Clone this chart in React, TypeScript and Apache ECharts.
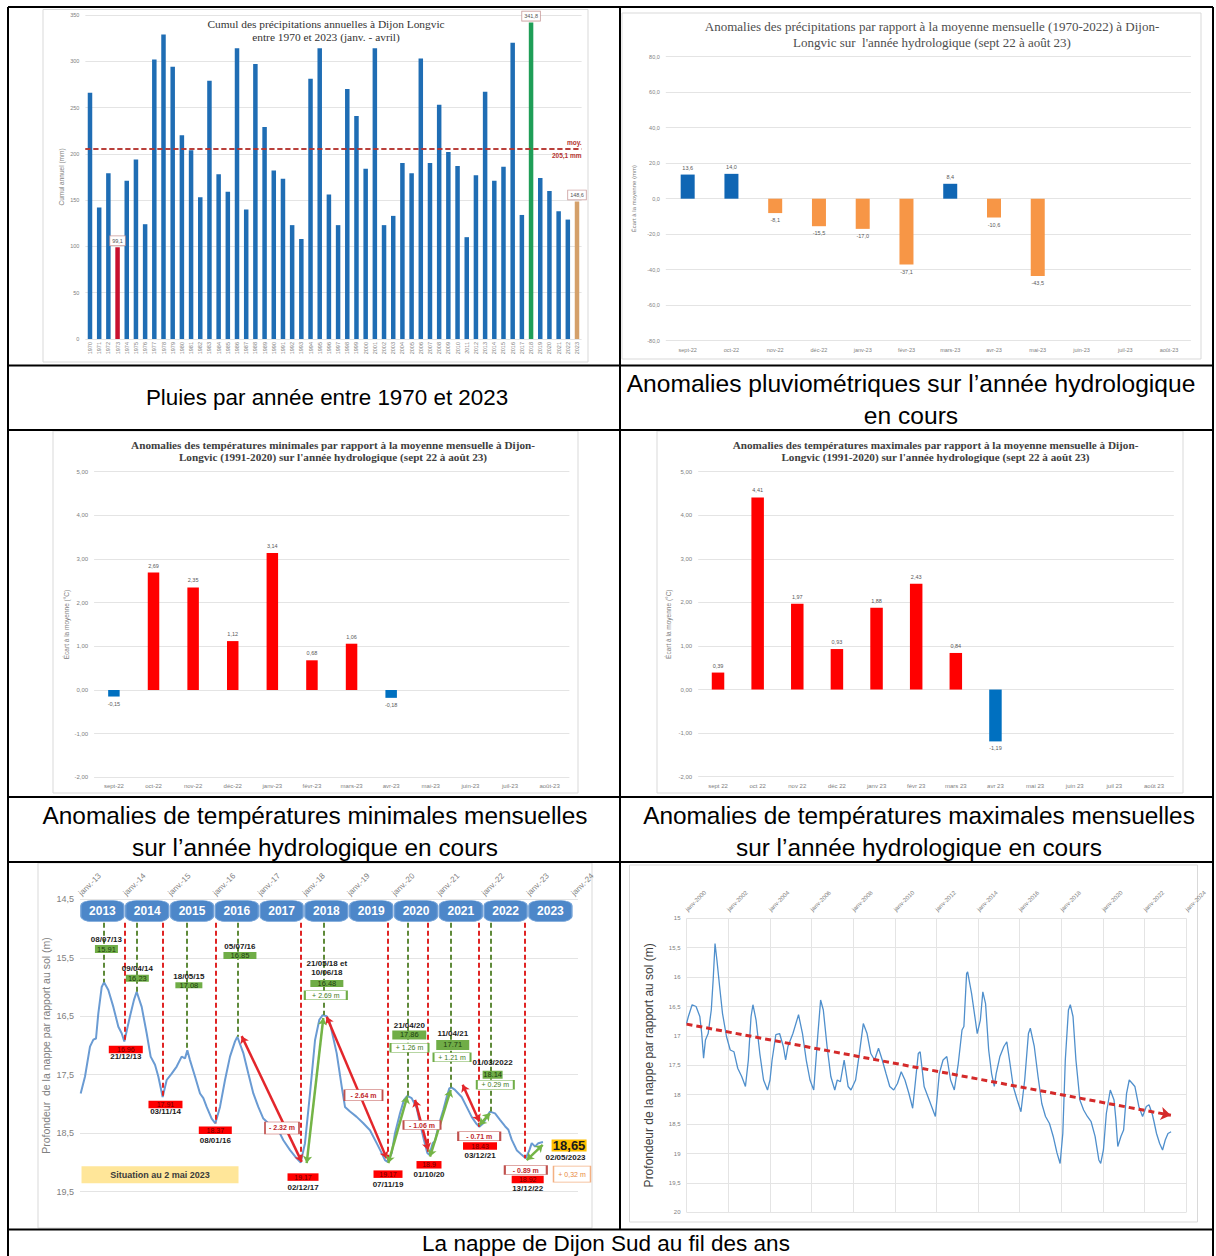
import React, { useEffect, useRef } from "react";
import * as echarts from "echarts";

const SANS = '"Liberation Sans", Arial, sans-serif';
const SERIF = '"Liberation Serif", "Times New Roman", serif';
const GREY = "#808080";
const GRID_GREY = "#e4e4e4";

// ---------- 1. Cumul des précipitations (janv. - avril), 1970-2023 ----------
const rainYears = [
  "1970", "1971", "1972", "1973", "1974", "1975", "1976", "1977", "1978", "1979",
  "1980", "1981", "1982", "1983", "1984", "1985", "1986", "1987", "1988", "1989",
  "1990", "1991", "1992", "1993", "1994", "1995", "1996", "1997", "1998", "1999",
  "2000", "2001", "2002", "2003", "2004", "2005", "2006", "2007", "2008", "2009",
  "2010", "2011", "2012", "2013", "2014", "2015", "2016", "2017", "2018", "2019",
  "2020", "2021", "2022", "2023",
];
const rainTotals = [
  266, 142, 179, 99.1, 171, 194, 124, 302, 329, 294,
  220, 204, 153, 279, 178, 159, 314, 140, 297, 229,
  182, 173, 123, 108, 281, 314, 156, 123, 270, 241,
  184, 314, 123, 133, 190, 179, 303, 190, 253, 202,
  187, 110, 177, 267, 171, 186, 320, 134, 341.8, 174,
  160, 138, 129, 148.6,
];
const rainMean = 205.1;
const rainHighlightYears = ["1973", "2018", "2023"];
const rainHighlightLabels = ["99,1", "341,8", "148,6"];
const rainHighlightColors = ["#c8102e", "#1f9e57", "#d4a06a"];

// ---------- 2. Anomalies des précipitations (sept 22 - août 23) ----------
const monthsHyphen = ["sept-22", "oct-22", "nov-22", "déc-22", "janv-23", "févr-23", "mars-23", "avr-23", "mai-23", "juin-23", "juil-23", "août-23"];
const rainAnomalies = [13.6, 14.0, -8.1, -15.5, -17.0, -37.1, 8.4, -10.6, -43.5, null, null, null];

// ---------- 3. Anomalies Tmin ----------
const tminAnomalies = [-0.15, 2.69, 2.35, 1.12, 3.14, 0.68, 1.06, -0.18, null, null, null, null];

// ---------- 4. Anomalies Tmax ----------
const monthsSpace = ["sept 22", "oct 22", "nov 22", "déc 22", "janv 23", "févr 23", "mars 23", "avr 23", "mai 23", "juin 23", "juil 23", "août 23"];
const tmaxAnomalies = [0.39, 4.41, 1.97, 0.93, 1.88, 2.43, 0.84, -1.19, null, null, null, null];

// ---------- 5. Nappe de Dijon Sud 2013-2023 (decimal years, depth m) ----------
const recentYears = [
  2013.015, 2013.112, 2013.223, 2013.298, 2013.357, 2013.409, 2013.484, 2013.536, 2013.632, 2013.744,
  2013.856, 2013.93, 2013.989, 2014.116, 2014.205, 2014.265, 2014.377, 2014.488, 2014.577, 2014.674,
  2014.748, 2014.845, 2014.935, 2015.046, 2015.158, 2015.269, 2015.344, 2015.396, 2015.455, 2015.567,
  2015.679, 2015.753, 2015.827, 2015.939, 2016.021, 2016.125, 2016.237, 2016.348, 2016.46, 2016.512,
  2016.646, 2016.757, 2016.869, 2016.98, 2017.092, 2017.204, 2017.315, 2017.427, 2017.539, 2017.688,
  2017.836, 2017.926, 2018.022, 2018.134, 2018.246, 2018.342, 2018.417, 2018.506, 2018.58, 2018.729,
  2018.841, 2018.915, 2019.027, 2019.176, 2019.324, 2019.473, 2019.622, 2019.734, 2019.808, 2019.868,
  2019.957, 2020.031, 2020.143, 2020.232, 2020.306, 2020.403, 2020.515, 2020.589, 2020.679, 2020.753,
  2020.798, 2020.872, 2020.924, 2020.999, 2021.11, 2021.185, 2021.244, 2021.296, 2021.371, 2021.445,
  2021.519, 2021.631, 2021.743, 2021.839, 2021.914, 2022.003, 2022.078, 2022.152, 2022.264, 2022.375,
  2022.487, 2022.562, 2022.636, 2022.748, 2022.86, 2022.949, 2023.031, 2023.083, 2023.158, 2023.23,
  2023.334,
];
const recentDepths = [
  17.82, 17.53, 17.02, 16.9, 16.88, 16.45, 16.0, 15.92, 16.05, 16.34,
  16.68, 16.79, 16.93, 16.5, 16.22, 16.08, 16.34, 16.79, 17.19, 17.33,
  17.53, 17.88, 17.59, 17.48, 17.36, 17.19, 17.22, 17.08, 17.25, 17.53,
  17.82, 17.9, 18.05, 18.25, 18.33, 18.05, 17.59, 17.19, 16.93, 16.85,
  17.13, 17.48, 17.82, 18.05, 18.25, 18.33, 18.39, 18.45, 18.62, 18.79,
  18.93, 19.0, 18.67, 17.82, 16.91, 16.56, 16.48, 16.5, 16.62, 17.13,
  17.7, 18.05, 18.13, 18.22, 18.33, 18.45, 18.67, 18.84, 18.96, 18.99,
  18.84, 18.5, 18.16, 17.93, 17.86, 17.9, 18.07, 18.33, 18.62, 18.84,
  18.87, 18.67, 18.64, 18.38, 18.1, 17.88, 17.73, 17.72, 17.76, 17.82,
  17.88, 18.05, 18.22, 18.33, 18.39, 18.33, 18.22, 18.13, 18.16, 18.27,
  18.38, 18.44, 18.61, 18.79, 18.87, 18.93, 18.79, 18.67, 18.73, 18.67,
  18.65,
];
const yearBoxLabels = ["2013", "2014", "2015", "2016", "2017", "2018", "2019", "2020", "2021", "2022", "2023"];
const yearBoxStarts = [2013, 2014, 2015, 2016, 2017, 2018, 2019, 2020, 2021, 2022, 2023];
const guideTopDepth = 14.9;
// hautes eaux
const highLineX = [2013.536, 2014.266, 2015.382, 2016.511, 2018.431, 2020.306, 2021.275, 2022.167];
const highLineDepth = [15.92, 16.08, 17.08, 16.85, 16.48, 17.86, 17.72, 18.13];
const highLabelX = [2013.59, 2014.28, 2015.43, 2016.57, 2018.51, 2020.35, 2021.32, 2022.21];
const highDates = ["08/07/13", "09/04/14", "18/05/15", "05/07/16", "21/05/18 et\n10/06/18", "21/04/20", "11/04/21", "01/03/2022"];
const highDateDepth = [15.19, 15.68, 15.82, 15.31, 15.67, 16.65, 16.79, 17.29];
const highValues = ["15.91", "16.23", "17.08", "16.85", "16.48", "17.86", "17.71", "18.14"];
const highValueDepth = [15.35, 15.85, 15.97, 15.46, 15.94, 16.82, 16.99, 17.5];
const highBoxW = [23, 23, 27, 33, 33, 34, 33, 20];
const highBoxH = [8, 7, 6, 7, 7, 9, 10, 8];
const riseTexts = ["+ 2.69 m", "+ 1.26 m", "+ 1.21 m", "+ 0.29 m"];
const riseX = [2018.487, 2020.355, 2021.304, 2022.27];
const riseDepth = [16.14, 17.04, 17.2, 17.67];
const riseBoxW = [42, 38, 37, 37];
// basses eaux
const lowLineX = [2013.989, 2014.846, 2016.02, 2017.926, 2019.868, 2020.752, 2021.9, 2022.933];
const lowLineDepth = [16.93, 17.88, 18.33, 19.0, 18.99, 18.84, 18.39, 18.93];
const lowLabelX = [2014.022, 2014.908, 2016.02, 2017.978, 2019.875, 2020.79, 2021.929, 2022.993];
const lowDates = ["21/12/13", "03/11/14", "08/01/16", "02/12/17", "07/11/19", "01/10/20", "03/12/21", "13/12/22"];
const lowDateDepth = [17.19, 18.13, 18.63, 19.42, 19.37, 19.21, 18.88, 19.44];
const lowValues = ["16.96", "17.91", "18.37", "19.17", "19.17", "18.9", "18.43", "18.92"];
const lowValueDepth = [17.07, 18.01, 18.45, 19.25, 19.2, 19.04, 18.72, 19.29];
const lowBoxW = [34, 34, 33, 31, 29, 25, 34, 32];
const fallTexts = ["- 2.32 m", "- 2.64 m", "- 1.06 m", "- 0.71 m", "- 0.89 m"];
const fallX = [2017.509, 2019.328, 2020.634, 2021.911, 2022.951];
const fallDepth = [18.41, 17.85, 18.36, 18.55, 19.13];
const fallBoxW = [34, 38, 37, 42, 42];
const fallBoxH = [12, 11, 9, 9, 9];
const fallArrows = [
  [2016.609, 16.84, 2017.949, 18.99],
  [2018.507, 16.51, 2019.846, 18.93],
  [2020.478, 17.93, 2020.775, 18.79],
  [2021.542, 17.67, 2021.913, 18.3],
];
const riseArrows = [
  [2018.06, 19.01, 2018.431, 16.53],
  [2019.882, 19.01, 2020.306, 17.87],
  [2020.813, 18.9, 2021.275, 17.76],
  [2021.913, 18.36, 2022.152, 18.16],
  [2022.971, 18.96, 2023.328, 18.7],
];
const currentValue = "18,65";
const currentValuePos = [2023.917, 18.71];
const currentDate = "02/05/2023";
const currentDatePos = [2023.837, 18.92];
const currentRise = "+ 0,32 m";
const currentRisePos = [2023.982, 19.2];
const situationText = "Situation au 2 mai 2023";
const situationPos = [2014.786, 19.21];

// ---------- 6. Nappe 2000-2023 ----------
const longYears = [
  2000.0, 2000.09, 2000.27, 2000.46, 2000.64, 2000.73, 2000.82, 2000.91, 2001.04, 2001.19,
  2001.28, 2001.37, 2001.46, 2001.59, 2001.73, 2001.92, 2002.1, 2002.28, 2002.46, 2002.65,
  2002.83, 2002.97, 2003.1, 2003.19, 2003.34, 2003.52, 2003.7, 2003.89, 2004.01, 2004.11,
  2004.29, 2004.47, 2004.65, 2004.76, 2004.87, 2005.11, 2005.38, 2005.57, 2005.75, 2005.93,
  2006.11, 2006.3, 2006.44, 2006.57, 2006.75, 2006.93, 2007.12, 2007.24, 2007.39, 2007.57,
  2007.76, 2007.9, 2008.12, 2008.3, 2008.49, 2008.67, 2008.85, 2009.03, 2009.22, 2009.4,
  2009.58, 2009.76, 2009.95, 2010.13, 2010.31, 2010.49, 2010.68, 2010.86, 2011.0, 2011.13,
  2011.22, 2011.41, 2011.59, 2011.77, 2011.95, 2012.14, 2012.32, 2012.5, 2012.68, 2012.86,
  2013.05, 2013.23, 2013.32, 2013.45, 2013.5, 2013.69, 2013.87, 2013.96, 2014.11, 2014.23,
  2014.36, 2014.51, 2014.65, 2014.78, 2014.87, 2015.05, 2015.24, 2015.38, 2015.51, 2015.69,
  2015.88, 2016.06, 2016.24, 2016.42, 2016.51, 2016.7, 2016.88, 2017.06, 2017.24, 2017.43,
  2017.61, 2017.79, 2017.94, 2018.07, 2018.19, 2018.34, 2018.43, 2018.56, 2018.7, 2018.89,
  2019.07, 2019.25, 2019.43, 2019.62, 2019.8, 2019.89, 2020.02, 2020.16, 2020.35, 2020.53,
  2020.62, 2020.71, 2020.86, 2020.99, 2021.13, 2021.26, 2021.41, 2021.53, 2021.72, 2021.9,
  2022.08, 2022.21, 2022.36, 2022.45, 2022.57, 2022.72, 2022.86, 2022.99, 2023.12, 2023.27,
];
const longDepths = [
  16.79, 16.67, 16.47, 16.5, 16.67, 16.96, 17.38, 17.07, 16.96, 16.56,
  16.05, 15.43, 15.71, 16.16, 16.62, 17.01, 17.24, 17.27, 17.55, 17.69,
  17.86, 17.41, 16.67, 16.47, 16.73, 17.3, 17.75, 17.92, 17.75, 17.41,
  16.98, 16.96, 17.18, 17.41, 17.18, 16.96, 16.64, 16.96, 17.41, 17.75,
  17.92, 17.01, 16.39, 16.56, 17.18, 17.69, 17.92, 17.75, 17.78, 17.41,
  17.86, 17.92, 17.75, 17.3, 16.79, 16.96, 17.3, 17.41, 17.21, 17.41,
  17.64, 17.86, 17.92, 17.81, 17.61, 17.75, 17.98, 18.23, 17.75, 17.3,
  17.27, 17.86, 18.03, 18.2, 18.37, 17.64, 17.41, 17.35, 17.75, 17.92,
  17.47, 16.9, 16.84, 15.94, 15.91, 16.28, 16.73, 16.96, 16.73, 16.25,
  16.45, 17.24, 17.64, 17.86, 17.64, 17.35, 17.18, 17.1, 17.41, 17.86,
  18.09, 18.29, 17.75, 16.96, 16.87, 17.18, 17.69, 18.15, 18.37, 18.49,
  18.71, 18.99, 19.17, 18.66, 17.41, 16.56, 16.47, 16.67, 17.41, 18.09,
  18.26, 18.37, 18.46, 18.71, 19.11, 19.17, 18.94, 18.32, 17.92, 18.09,
  18.43, 18.88, 18.71, 18.6, 17.98, 17.75, 17.81, 17.86, 18.2, 18.37,
  18.2, 18.17, 18.32, 18.46, 18.66, 18.83, 18.94, 18.77, 18.66, 18.63,
];
const trendStart = [2000.0, 16.8];
const trendEnd = [2023.26, 18.35];

// ---------- helpers ----------
const comma = (v: number, d: number) => v.toFixed(d).replace(".", ",");
const TRANSPARENT = "rgba(0,0,0,0)";

function mpBox(x: number, y: number, text: string, w: number, h: number, fill: string, stroke: string | null, color: string, fontSize: number, bold = true, symbol = "rect") {
  return {
    coord: [x, y],
    symbol,
    symbolSize: [w, h],
    itemStyle: { color: fill, borderColor: stroke || TRANSPARENT, borderWidth: stroke ? 1 : 0 },
    label: {
      show: true, position: "inside", formatter: text, color, fontSize,
      fontWeight: bold ? "bold" : "normal", fontFamily: SANS, lineHeight: fontSize + 1,
    },
  };
}
const mpText = (x: number, y: number, text: string, color: string, fontSize: number) =>
  mpBox(x, y, text, 1, 1, TRANSPARENT, null, color, fontSize, true);

function vLine(x: number, y1: number, y2: number, color: string) {
  return [
    { coord: [x, y1], symbol: "none", lineStyle: { color, type: [5, 3], width: 2 } },
    { coord: [x, y2], symbol: "none" },
  ];
}
function arrowLine(a: number[], color: string) {
  return [
    { coord: [a[0], a[1]], symbol: "arrow", symbolSize: 7, lineStyle: { color, type: "solid", width: 2.5 } },
    { coord: [a[2], a[3]], symbol: "arrow", symbolSize: 7 },
  ];
}

function catAxis(gridIndex: number, data: string[], fontSize: number, extra: any = {}) {
  return {
    type: "category", gridIndex, data,
    axisLine: { show: false, onZero: false }, axisTick: { show: false },
    axisLabel: { color: GREY, fontSize, fontFamily: SANS, interval: 0, margin: 6, ...extra },
  };
}
function valAxis(gridIndex: number, min: number, max: number, interval: number, fmt: (v: number) => string, fontSize: number, name: string, nameGap: number, nameSize: number, nameColor: string, extra: any = {}) {
  return {
    type: "value", gridIndex, min, max, interval,
    axisLine: { show: false }, axisTick: { show: false },
    splitLine: { show: true, lineStyle: { color: GRID_GREY, width: 1 } },
    axisLabel: { color: GREY, fontSize, fontFamily: SANS, formatter: fmt, margin: 6 },
    name, nameLocation: "middle", nameGap, nameRotate: 90,
    nameTextStyle: { color: nameColor, fontSize: nameSize, fontFamily: SANS },
    ...extra,
  };
}
function anomalyData(values: (number | null)[], digits: number, pos: string, neg: string, dist: number, fontSize: number) {
  return values.map((v) =>
    v == null
      ? null
      : {
          value: v,
          itemStyle: { color: v >= 0 ? pos : neg },
          label: {
            show: true, position: v >= 0 ? "top" : "bottom", distance: dist,
            formatter: comma(v, digits), color: "#595959", fontSize, fontFamily: SANS,
          },
        }
  );
}

function buildOption() {
  // ---- chart 5 annotations ----
  const mlData: any[] = [];
  highLineX.forEach((x, i) => mlData.push(vLine(x, guideTopDepth, highLineDepth[i], "#5f8a3a")));
  lowLineX.forEach((x, i) => mlData.push(vLine(x, guideTopDepth, lowLineDepth[i], "#e02424")));
  fallArrows.forEach((a) => mlData.push(arrowLine(a, "#e3262b")));
  riseArrows.forEach((a) => mlData.push(arrowLine(a, "#74b446")));

  const mpData: any[] = [];
  yearBoxLabels.forEach((t, i) =>
    mpData.push(mpBox(yearBoxStarts[i] + 0.5, 14.7, t, 43, 21, "#4d87c9", "#6f9fd6", "#ffffff", 12, true, "roundRect"))
  );
  highDates.forEach((t, i) => mpData.push(mpText(highLabelX[i], highDateDepth[i], t, "#1a1a1a", 8)));
  highValues.forEach((t, i) =>
    mpData.push(mpBox(highLabelX[i], highValueDepth[i], t, highBoxW[i], highBoxH[i], "#70ad47", null, "#1d3d10", 7.5, false))
  );
  riseTexts.forEach((t, i) =>
    mpData.push(mpBox(riseX[i], riseDepth[i], t, riseBoxW[i], 9, "#ffffff", "#70ad47", "#3f7a22", 7, false))
  );
  lowValues.forEach((t, i) =>
    mpData.push(mpBox(lowLabelX[i], lowValueDepth[i], t, lowBoxW[i], 7.5, "#ff0000", null, "#6a0000", 7, false))
  );
  lowDates.forEach((t, i) => mpData.push(mpText(lowLabelX[i], lowDateDepth[i], t, "#1a1a1a", 8)));
  fallTexts.forEach((t, i) =>
    mpData.push(mpBox(fallX[i], fallDepth[i], t, fallBoxW[i], fallBoxH[i], "#ffffff", "#c0504d", "#c0282d", 7, true))
  );
  mpData.push(mpBox(currentValuePos[0], currentValuePos[1], currentValue, 35, 12, "#ffc000", null, "#1a1a1a", 13, true));
  mpData.push(mpText(currentDatePos[0], currentDatePos[1], currentDate, "#1a1a1a", 8));
  mpData.push(mpBox(currentRisePos[0], currentRisePos[1], currentRise, 37, 16, "#ffffff", "#f4b183", "#e8893a", 7, false));
  mpData.push(mpBox(situationPos[0], situationPos[1], situationText, 157, 17, "#ffe699", null, "#3a3a3a", 9, true));

  // ---- chart 1 bar data ----
  const rainData = rainTotals.map((v, i) => {
    const h = rainHighlightYears.indexOf(rainYears[i]);
    if (h < 0) return { value: v };
    return {
      value: v,
      itemStyle: { color: rainHighlightColors[h] },
      label: {
        show: true, position: "top", distance: 2, formatter: rainHighlightLabels[h],
        fontSize: 5.5, color: "#555", fontFamily: SANS,
        backgroundColor: "#ffffff", borderColor: "#c99a9a", borderWidth: 0.8, padding: [1.5, 2],
      },
    };
  });

  // ---- layout graphics ----
  const tableLines = [
    [8, 7, 1213, 7], [8, 7, 8, 1256], [1213, 7, 1213, 1256], [620, 7, 620, 1229.5],
    [8, 365.5, 1213, 365.5], [8, 430, 1213, 430], [8, 797, 1213, 797], [8, 862, 1213, 862], [8, 1229.5, 1213, 1229.5],
  ];
  const frames = [
    [43, 9.5, 545, 352.5], [622, 13, 579, 346], [53, 431, 525, 362], [657, 431, 526, 362], [38, 863, 554, 365], [629.5, 865, 568, 357],
  ];
  const texts = [
    { x: 326, y: 17.5, text: "Cumul des précipitations annuelles à Dijon Longvic\nentre 1970 et 2023 (janv. - avril)", size: 11.4, lh: 12.7, weight: "normal", fill: "#333333", family: SERIF },
    { x: 932, y: 18, text: "Anomalies des précipitations par rapport à la moyenne mensuelle (1970-2022) à Dijon-\nLongvic sur  l'année hydrologique (sept 22 à août 23)", size: 13, lh: 16, weight: "normal", fill: "#4d4d4d", family: SERIF },
    { x: 333, y: 439, text: "Anomalies des températures minimales par rapport à la moyenne mensuelle à Dijon-\nLongvic (1991-2020) sur l'année hydrologique (sept 22 à août 23)", size: 11.2, lh: 12, weight: "bold", fill: "#404040", family: SERIF },
    { x: 935.5, y: 439, text: "Anomalies des températures maximales par rapport à la moyenne mensuelle à Dijon-\nLongvic (1991-2020) sur l'année hydrologique (sept 22 à août 23)", size: 11.2, lh: 12, weight: "bold", fill: "#404040", family: SERIF },
    { x: 327, y: 381.5, text: "Pluies par année entre 1970 et 2023", size: 22.4, lh: 32, weight: "normal", fill: "#000000", family: SANS },
    { x: 911, y: 367, text: "Anomalies pluviométriques sur l’année hydrologique\nen cours", size: 24.6, lh: 32, weight: "normal", fill: "#000000", family: SANS },
    { x: 315, y: 799, text: "Anomalies de températures minimales mensuelles\nsur l’année hydrologique en cours", size: 24.4, lh: 32, weight: "normal", fill: "#000000", family: SANS },
    { x: 919, y: 799, text: "Anomalies de températures maximales mensuelles\nsur l’année hydrologique en cours", size: 24.4, lh: 32, weight: "normal", fill: "#000000", family: SANS },
    { x: 606, y: 1231, text: "La nappe de Dijon Sud au fil des ans", size: 22.5, lh: 24, weight: "normal", fill: "#000000", family: SANS },
  ];
  const graphic: any[] = [];
  frames.forEach((f) =>
    graphic.push({ type: "rect", silent: true, shape: { x: f[0], y: f[1], width: f[2], height: f[3] }, style: { fill: "none", stroke: "#d9d9d9", lineWidth: 1 } })
  );
  tableLines.forEach((l) =>
    graphic.push({ type: "line", silent: true, shape: { x1: l[0], y1: l[1], x2: l[2], y2: l[3] }, style: { stroke: "#000000", lineWidth: 2 } })
  );
  texts.forEach((t) =>
    graphic.push({
      type: "text", silent: true, x: t.x, y: t.y,
      style: { text: t.text, fill: t.fill, fontSize: t.size, fontFamily: t.family, fontWeight: t.weight, lineHeight: t.lh, align: "center", verticalAlign: "top" },
    })
  );

  return {
    animation: false,
    backgroundColor: "#ffffff",
    textStyle: { fontFamily: SANS },
    grid: [
      { left: 85.4, top: 15, width: 496.2, height: 324 },
      { left: 665.8, top: 56.7, width: 525.1, height: 284 },
      { left: 94.1, top: 471.7, width: 475.3, height: 305.6 },
      { left: 698.2, top: 471.7, width: 475.6, height: 305 },
      { left: 80, top: 899.3, width: 498, height: 292.4 },
      { left: 686.5, top: 918.3, width: 499.8, height: 294 },
    ],
    xAxis: [
      catAxis(0, rainYears, 5.5, { rotate: 90, margin: 3 }),
      catAxis(1, monthsHyphen, 5.5),
      catAxis(2, monthsHyphen, 6),
      catAxis(3, monthsSpace, 6),
      {
        type: "value", gridIndex: 4, position: "top", min: 2013, max: 2024.116, interval: 1,
        axisLine: { show: false }, axisTick: { show: false }, splitLine: { show: false },
        axisLabel: {
          rotate: -45, margin: 5, fontSize: 8, color: GREY, fontFamily: SANS,
          formatter: (v: number) => (Math.abs(v - Math.round(v)) < 0.01 ? "janv.-" + String(Math.round(v)).slice(2) : ""),
        },
      },
      {
        type: "value", gridIndex: 5, position: "top", min: 2000, max: 2024, interval: 2,
        axisLine: { show: false }, axisTick: { show: false },
        splitLine: { show: true, lineStyle: { color: GRID_GREY } },
        axisLabel: { rotate: -45, margin: 8, fontSize: 6, color: GREY, fontFamily: SANS, formatter: (v: number) => "janv-" + Math.round(v) },
      },
    ],
    yAxis: [
      valAxis(0, 0, 350, 50, (v) => String(v), 5.5, "Cumul annuel (mm)", 20, 6.5, GREY),
      valAxis(1, -80, 80, 20, (v) => comma(v, 1), 5.5, "Écart à la moyenne (mm)", 29, 6, GREY),
      valAxis(2, -2, 5, 1, (v) => comma(v, 2), 6, "Écart à la moyenne (°C)", 24, 6.5, GREY),
      valAxis(3, -2, 5, 1, (v) => comma(v, 2), 6, "Écart à la moyenne (°C)", 26, 6.5, GREY),
      valAxis(4, 14.5, 19.5, 1, (v) => comma(v, 1), 9, "Profondeur  de la nappe par rapport au sol (m)", 29, 10.5, GREY, { inverse: true }),
      valAxis(5, 15, 20, 0.5, (v) => (Math.abs(v - Math.round(v)) < 1e-6 ? String(Math.round(v)) : comma(v, 1)), 6, "Profondeur de la nappe par rapport au sol (m)", 32, 12, "#404040", { inverse: true }),
    ],
    series: [
      {
        type: "bar", xAxisIndex: 0, yAxisIndex: 0, barWidth: 4.5, data: rainData,
        itemStyle: { color: "#1f6db4" },
        markLine: {
          silent: true, symbol: ["none", "none"],
          lineStyle: { color: "#b5342f", type: [5, 3], width: 1.6 },
          label: { color: "#b5342f", fontSize: 6.5, fontFamily: SANS, fontWeight: "bold", distance: [0, 3] },
          data: [
            { yAxis: rainMean, label: { position: "insideEndTop", formatter: "moy." } },
            { yAxis: rainMean, label: { position: "insideEndBottom", formatter: comma(rainMean, 1) + " mm" } },
          ],
        },
      },
      { type: "bar", xAxisIndex: 1, yAxisIndex: 1, barWidth: 14, data: anomalyData(rainAnomalies, 1, "#1066b4", "#f79646", 4, 5.5) },
      { type: "bar", xAxisIndex: 2, yAxisIndex: 2, barWidth: 11.5, data: anomalyData(tminAnomalies, 2, "#ff0000", "#0070c0", 4, 5.5) },
      { type: "bar", xAxisIndex: 3, yAxisIndex: 3, barWidth: 12.5, data: anomalyData(tmaxAnomalies, 2, "#ff0000", "#0070c0", 4, 5.5) },
      {
        type: "line", xAxisIndex: 4, yAxisIndex: 4, showSymbol: false, symbol: "none", z: 3,
        data: recentYears.map((t, i) => [t, recentDepths[i]]),
        lineStyle: { color: "#6a9bd3", width: 2 },
        markLine: { silent: true, symbol: ["none", "none"], label: { show: false }, z: 4, data: mlData },
        markPoint: { silent: true, z: 6, data: mpData },
      },
      {
        type: "line", xAxisIndex: 5, yAxisIndex: 5, showSymbol: false, symbol: "none",
        data: longYears.map((t, i) => [t, longDepths[i]]),
        lineStyle: { color: "#4f8fcc", width: 1.3 },
        markLine: {
          silent: true, label: { show: false },
          data: [[
            { coord: trendStart, symbol: "none", lineStyle: { color: "#d42a2a", type: [6, 4], width: 3 } },
            { coord: trendEnd, symbol: "arrow", symbolSize: 10 },
          ]],
        },
      },
    ],
    graphic,
  };
}

export default function App() {
  const ref = useRef<HTMLDivElement>(null);
  useEffect(() => {
    if (!ref.current) return;
    const chart = echarts.init(ref.current, null, { renderer: "svg" });
    chart.setOption(buildOption() as any);
    return () => chart.dispose();
  }, []);
  return (
    <div
      ref={ref}
      style={{ position: "absolute", left: 0, top: 0, width: 1216, height: 1256, background: "#ffffff" }}
    />
  );
}
